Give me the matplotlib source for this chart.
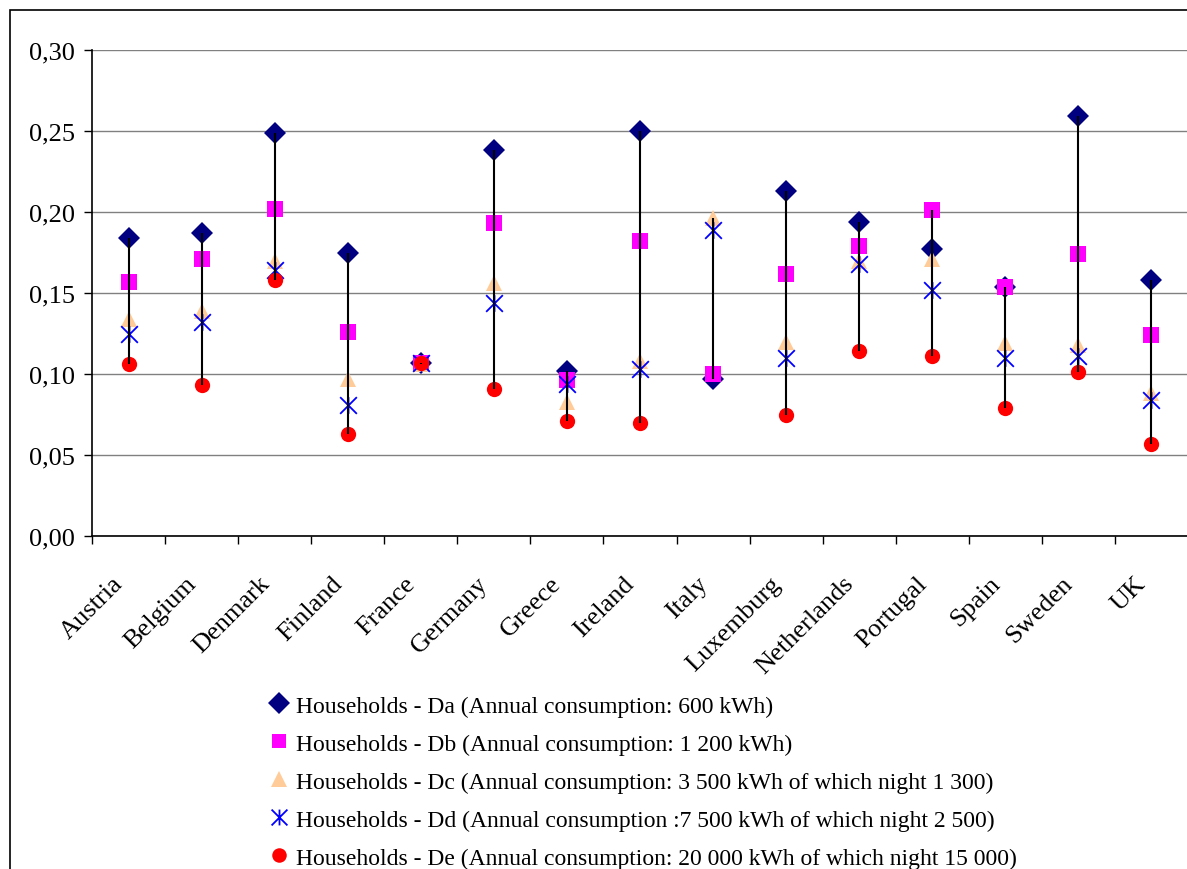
import numpy as np
import matplotlib
matplotlib.use("Agg")
import matplotlib.pyplot as plt
from matplotlib.path import Path
from matplotlib.lines import Line2D
from matplotlib.patches import Rectangle
from matplotlib.transforms import ScaledTranslation

plt.rcParams["font.family"] = ["Liberation Serif", "DejaVu Serif"]

countries = ["Austria", "Belgium", "Denmark", "Finland", "France", "Germany", "Greece",
             "Ireland", "Italy", "Luxemburg", "Netherlands", "Portugal", "Spain",
             "Sweden", "UK"]
da = [0.184, 0.187, 0.249, 0.175, 0.107, 0.238, 0.102, 0.250, 0.097, 0.213, 0.194, 0.177, 0.154, 0.259, 0.158]
db = [0.157, 0.171, 0.202, 0.126, 0.107, 0.193, 0.096, 0.182, 0.100, 0.162, 0.179, 0.201, 0.154, 0.174, 0.124]
dc = [0.134, 0.139, 0.170, 0.097, 0.106, 0.156, 0.083, 0.108, 0.196, 0.120, 0.170, 0.171, 0.119, 0.118, 0.088]
dd = [0.125, 0.132, 0.164, 0.081, 0.107, 0.144, 0.094, 0.103, 0.189, 0.110, 0.168, 0.152, 0.110, 0.111, 0.084]
de = [0.106, 0.093, 0.158, 0.063, 0.107, 0.091, 0.071, 0.070, np.nan, 0.075, 0.114, 0.111, 0.079, 0.101, 0.057]

labels = ["Households - Da (Annual consumption: 600 kWh)",
          "Households - Db (Annual consumption: 1 200 kWh)",
          "Households - Dc (Annual consumption: 3 500 kWh of which night 1 300)",
          "Households - Dd (Annual consumption :7 500 kWh of which night 2 500)",
          "Households - De (Annual consumption: 20 000 kWh of which night 15 000)"]

# excel-style star: an X with a vertical bar through it
STAR = Path([(-1, -1), (1, 1), (-1, 1), (1, -1), (0, -1), (0, 1)],
            [Path.MOVETO, Path.LINETO, Path.MOVETO, Path.LINETO, Path.MOVETO, Path.LINETO])

styles = [
    dict(marker="D", color="#000080", ms=11.5),
    dict(marker="s", color="#FF00FF", ms=11),
    dict(marker="^", color="#FFCC99", ms=12),
    dict(marker=STAR, color="#0000FF", ms=12, mfc="none", mew=1.3),
    dict(marker="o", color="#FF0000", ms=11),
]

W, H = 1187, 870
fig = plt.figure(figsize=(W / 100, H / 100), dpi=100)
ax = fig.add_axes([92 / W, 1 - 537 / H, 1096 / W, 486 / H])

x = np.arange(len(countries))
series = [da, db, dc, dd, de]
handles = []
for vals, st, lab in zip(series, styles, labels):
    ax.plot(x, vals, linestyle="none", marker=st["marker"], color=st["color"],
            ms=st["ms"], mfc=st.get("mfc", st["color"]), mew=st.get("mew", 0),
            mec=st["color"], zorder=3)
    handles.append(Line2D([], [], linestyle="none", marker=st["marker"], color=st["color"],
                          ms=st["ms"] * 0.95, mfc=st.get("mfc", st["color"]),
                          mew=st.get("mew", 0), mec=st["color"], label=lab))

arr = np.array(series)
ax.vlines(x, np.nanmin(arr, axis=0), np.nanmax(arr, axis=0), color="black", lw=1.5, zorder=4)

ax.set_xlim(-0.5, len(countries) - 0.5)
ax.set_ylim(0, 0.30)
yt = np.arange(0, 0.301, 0.05)
ax.set_yticks(yt)
ax.set_yticklabels([f"{v:.2f}".replace(".", ",") for v in yt], fontsize=19)
ax.yaxis.grid(True, color="#808080", lw=1)
ax.set_axisbelow(True)

ax.set_xticks(np.arange(-0.5, len(countries), 1))
ax.set_xticklabels([])
ax.set_xticks(x, minor=True)
ax.set_xticklabels(countries, minor=True, rotation=45, ha="right", va="top",
                   rotation_mode="anchor", fontsize=19)
ax.tick_params(axis="x", which="minor", length=0, pad=26)
ax.tick_params(axis="x", which="major", length=6, width=1)
ax.tick_params(axis="y", length=6, width=1, pad=6)
shift = ScaledTranslation(-12 / 72, 0, fig.dpi_scale_trans)
for lab in ax.get_xticklabels(minor=True):
    lab.set_transform(lab.get_transform() + shift)
for s in ("top", "right"):
    ax.spines[s].set_visible(False)
for s in ("left", "bottom"):
    ax.spines[s].set_linewidth(1.2)

fig.legend(handles=handles, loc="upper left", bbox_to_anchor=(270 / W, 1 - 696 / H),
           frameon=False, fontsize=17, handlelength=0.8, handletextpad=0.3,
           labelspacing=0.7, borderaxespad=0, borderpad=0)

fig.patches.append(Rectangle((10 / W, -0.1), 1.2, 1.1 - 11 / H, transform=fig.transFigure,
                             fill=False, ec="black", lw=1.2))

fig.savefig("out.png", dpi=100)
